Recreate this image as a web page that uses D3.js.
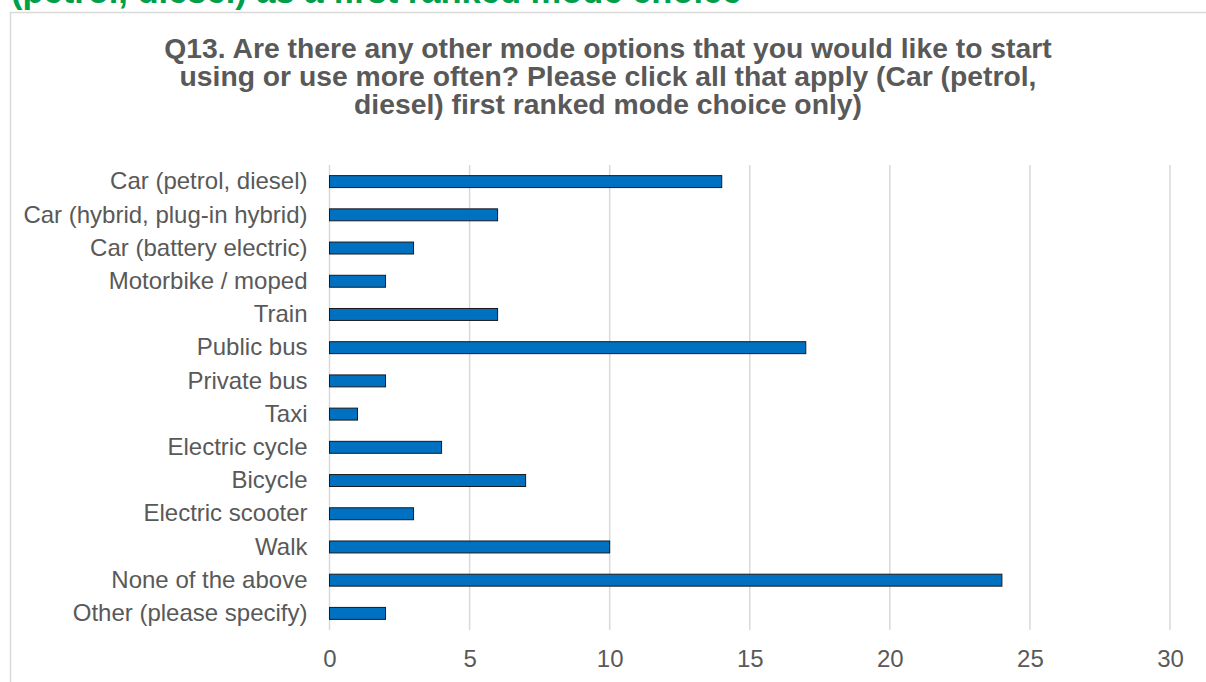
<!DOCTYPE html>
<html>
<head>
<meta charset="utf-8">
<script src="https://cdn.jsdelivr.net/npm/d3@7"></script>
<style>
    body { margin: 0; background: #fff; }
    svg { display: block; font-family: "Liberation Sans", Arial, sans-serif; }
</style>
</head>
<body>
<svg id="chart" width="1206" height="682"></svg>
<script>
var categories = [
        'Car (petrol, diesel)',
        'Car (hybrid, plug-in hybrid)',
        'Car (battery electric)',
        'Motorbike / moped',
        'Train',
        'Public bus',
        'Private bus',
        'Taxi',
        'Electric cycle',
        'Bicycle',
        'Electric scooter',
        'Walk',
        'None of the above',
        'Other (please specify)'
    ],
    counts = [ 14, 6, 3, 2, 6, 17, 2, 1, 4, 7, 3, 10, 24, 2 ],
    xTicks = [ 0, 5, 10, 15, 20, 25, 30 ],
    titleLines = [
        'Q13. Are there any other mode options that you would like to start',
        'using or use more often? Please click all that apply (Car (petrol,',
        'diesel) first ranked mode choice only)'
    ],
    headingText = '(petrol, diesel) as a first ranked mode choice';

var svg = d3.select( '#chart' ),
    margin = { top : 165, right : 36, bottom : 52, left : 329.5 },
    width  = 1170 - margin.left,
    height = 630 - margin.top,
    grey   = '#595959';

// heading of the page above the chart, cut off by the top edge
svg.append( 'text' )
    .attr( 'x', 11 )
    .attr( 'y', 3 )
    .attr( 'fill', '#00a04a' )
    .attr( 'font-size', 34.5 )
    .attr( 'font-weight', 'bold' )
    .text( headingText );

// chart area border
svg.append( 'rect' )
    .attr( 'x', 10.5 )
    .attr( 'y', 12.5 )
    .attr( 'width', 1220 )
    .attr( 'height', 700 )
    .attr( 'fill', '#fff' )
    .attr( 'stroke', '#d9d9d9' )
    .attr( 'stroke-width', 1.5 );

svg.append( 'text' )
    .attr( 'text-anchor', 'middle' )
    .attr( 'fill', grey )
    .attr( 'font-size', 28.3 )
    .attr( 'font-weight', 'bold' )
    .selectAll( 'tspan' )
    .data( titleLines )
    .enter().append( 'tspan' )
    .attr( 'x', 608 )
    .attr( 'y', function ( d, i ) { return 57.5 + i * 28; } )
    .text( function ( d ) { return d; } );

var x = d3.scaleLinear().domain( [ 0, 30 ] ).range( [ 0, width ] ),
    y = d3.scaleBand().domain( categories ).range( [ 0, height ] ).paddingInner( 0.64 ).paddingOuter( 0.32 ),
    g = svg.append( 'g' )
        .attr( 'transform', 'translate(' + margin.left + ',' + margin.top + ')' );

// vertical gridlines
g.selectAll( '.grid' )
    .data( xTicks )
    .enter().append( 'line' )
    .attr( 'class', 'grid' )
    .attr( 'x1', function ( d ) { return x( d ); } )
    .attr( 'x2', function ( d ) { return x( d ); } )
    .attr( 'y1', 0 )
    .attr( 'y2', height )
    .attr( 'stroke', '#d9d9d9' )
    .attr( 'stroke-width', 1.5 );

var xAxis = g.append( 'g' )
    .attr( 'transform', 'translate(0,' + height + ')' )
    .call( d3.axisBottom( x ).tickValues( xTicks ).tickSize( 0 ).tickPadding( 20 ) );
xAxis.select( '.domain' ).remove();
xAxis.selectAll( 'text' )
    .attr( 'fill', grey )
    .attr( 'font-size', 24 )
    .attr( 'font-family', '"Liberation Sans", Arial, sans-serif' );

var yAxis = g.append( 'g' )
    .call( d3.axisLeft( y ).tickSize( 0 ).tickPadding( 22 ) );
yAxis.select( '.domain' ).remove();
yAxis.selectAll( 'text' )
    .attr( 'fill', grey )
    .attr( 'font-size', 24 )
    .attr( 'font-family', '"Liberation Sans", Arial, sans-serif' );

g.selectAll( '.bar' )
    .data( counts )
    .enter().append( 'rect' )
    .attr( 'class', 'bar' )
    .attr( 'x', x( 0 ) )
    .attr( 'y', function ( d, i ) { return y( categories[ i ] ); } )
    .attr( 'width', function ( d ) { return x( d ) - x( 0 ); } )
    .attr( 'height', y.bandwidth() )
    .attr( 'fill', '#0070c0' )
    .attr( 'stroke', '#1a1a1a' )
    .attr( 'stroke-width', 1 );
</script>
</body>
</html>
